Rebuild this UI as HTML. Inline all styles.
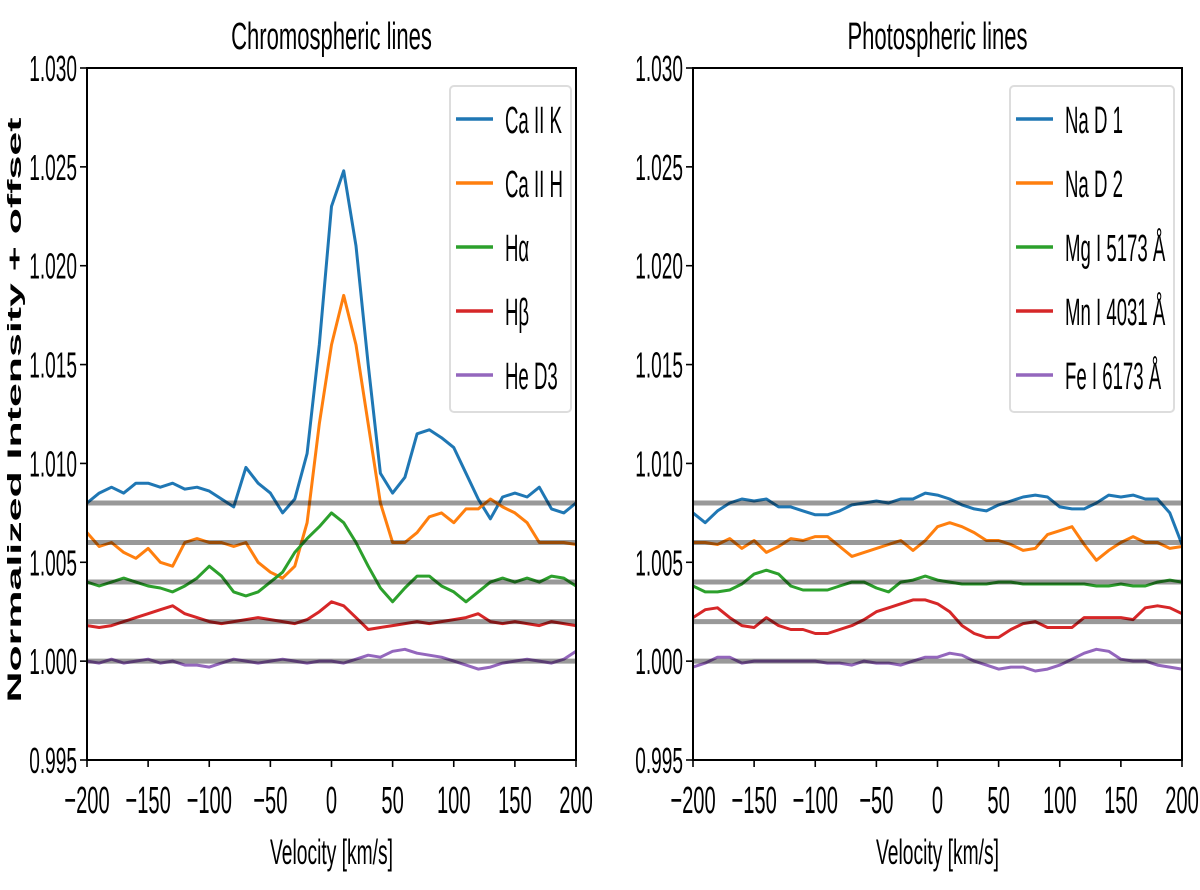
<!DOCTYPE html>
<html><head><meta charset="utf-8"><style>
body{margin:0;background:#fff;width:1200px;height:885px;overflow:hidden}
svg text{font-family:"Liberation Sans",sans-serif;fill:#000}
</style></head><body>
<svg id="fig" width="1200" height="885" xmlns="http://www.w3.org/2000/svg"></svg>
<script>
const velocities=[-200,-190,-180,-170,-160,-150,-140,-130,-120,-110,-100,-90,-80,-70,-60,-50,-40,-30,-20,-10,0,10,20,30,40,50,60,70,80,90,100,110,120,130,140,150,160,170,180,190,200];
const caK=[1.008,1.0085,1.0088,1.0085,1.009,1.009,1.0088,1.009,1.0087,1.0088,1.0086,1.0082,1.0078,1.0098,1.009,1.0085,1.0075,1.0082,1.0105,1.016,1.023,1.0248,1.021,1.015,1.0095,1.0085,1.0093,1.0115,1.0117,1.0113,1.0108,1.0095,1.0082,1.0072,1.0083,1.0085,1.0083,1.0088,1.0077,1.0075,1.008];
const caH=[1.0065,1.0058,1.006,1.0055,1.0052,1.0057,1.005,1.0048,1.006,1.0062,1.006,1.006,1.0058,1.006,1.005,1.0045,1.0042,1.0048,1.007,1.012,1.016,1.0185,1.016,1.012,1.008,1.006,1.006,1.0065,1.0073,1.0075,1.007,1.0077,1.0077,1.0082,1.0078,1.0075,1.007,1.006,1.006,1.006,1.0059];
const halpha=[1.004,1.0038,1.004,1.0042,1.004,1.0038,1.0037,1.0035,1.0038,1.0042,1.0048,1.0043,1.0035,1.0033,1.0035,1.004,1.0045,1.0055,1.0062,1.0068,1.0075,1.007,1.006,1.0048,1.0037,1.003,1.0037,1.0043,1.0043,1.0038,1.0035,1.003,1.0035,1.004,1.0042,1.004,1.0042,1.004,1.0043,1.0042,1.0038];
const hbeta=[1.0018,1.0017,1.0018,1.002,1.0022,1.0024,1.0026,1.0028,1.0024,1.0022,1.002,1.0019,1.002,1.0021,1.0022,1.0021,1.002,1.0019,1.0021,1.0025,1.003,1.0028,1.0022,1.0016,1.0017,1.0018,1.0019,1.002,1.0019,1.002,1.0021,1.0022,1.0024,1.002,1.0019,1.002,1.0019,1.0018,1.002,1.0019,1.0018];
const heD3=[1.0,0.9999,1.0001,0.9999,1.0,1.0001,0.9999,1.0,0.9998,0.9998,0.9997,0.9999,1.0001,1.0,0.9999,1.0,1.0001,1.0,0.9999,1.0,1.0,0.9999,1.0001,1.0003,1.0002,1.0005,1.0006,1.0004,1.0003,1.0002,1.0,0.9998,0.9996,0.9997,0.9999,1.0,1.0001,1.0,0.9999,1.0001,1.0005];
const naD1=[1.0075,1.007,1.0076,1.008,1.0082,1.0081,1.0082,1.0078,1.0078,1.0076,1.0074,1.0074,1.0076,1.0079,1.008,1.0081,1.008,1.0082,1.0082,1.0085,1.0084,1.0082,1.0079,1.0077,1.0076,1.0079,1.0081,1.0083,1.0084,1.0083,1.0078,1.0077,1.0077,1.008,1.0084,1.0083,1.0084,1.0082,1.0082,1.0075,1.0059];
const naD2=[1.006,1.006,1.0059,1.0062,1.0057,1.0061,1.0055,1.0058,1.0062,1.0061,1.0063,1.0063,1.0058,1.0053,1.0055,1.0057,1.0059,1.0061,1.0056,1.0061,1.0068,1.007,1.0068,1.0065,1.0061,1.0061,1.0059,1.0056,1.0057,1.0064,1.0066,1.0068,1.0059,1.0051,1.0056,1.006,1.0063,1.006,1.006,1.0057,1.0058];
const mg=[1.0038,1.0035,1.0035,1.0036,1.0039,1.0044,1.0046,1.0044,1.0038,1.0036,1.0036,1.0036,1.0038,1.004,1.004,1.0037,1.0035,1.004,1.0041,1.0043,1.0041,1.004,1.0039,1.0039,1.0039,1.004,1.004,1.0039,1.0039,1.0039,1.0039,1.0039,1.0039,1.0038,1.0038,1.0039,1.0038,1.0038,1.004,1.0041,1.004];
const mn=[1.0022,1.0026,1.0027,1.0022,1.0018,1.0017,1.0022,1.0018,1.0016,1.0016,1.0014,1.0014,1.0016,1.0018,1.0021,1.0025,1.0027,1.0029,1.0031,1.0031,1.0029,1.0025,1.0018,1.0014,1.0012,1.0012,1.0016,1.0019,1.002,1.0017,1.0017,1.0017,1.0022,1.0022,1.0022,1.0022,1.0021,1.0027,1.0028,1.0027,1.0024];
const fe=[0.9997,0.9999,1.0002,1.0002,0.9999,1.0,1.0,1.0,1.0,1.0,1.0,0.9999,0.9999,0.9998,1.0,0.9999,0.9999,0.9998,1.0,1.0002,1.0002,1.0004,1.0003,1.0,0.9998,0.9996,0.9997,0.9997,0.9995,0.9996,0.9998,1.0001,1.0004,1.0006,1.0005,1.0001,1.0,1.0,0.9998,0.9997,0.9996];
const offsets=[1.008,1.006,1.004,1.002,1.000];
const yTicks=[0.995,1.000,1.005,1.010,1.015,1.020,1.025,1.030];
const xTicks=[-200,-150,-100,-50,0,50,100,150,200];
const leftNames=["Ca II K","Ca II H","Hα","Hβ","He D3"];
const rightNames=["Na D 1","Na D 2","Mg I 5173 Å","Mn I 4031 Å","Fe I 6173 Å"];
const colors=["#1f77b4","#ff7f0e","#2ca02c","#d62728","#9467bd"];

const NS="http://www.w3.org/2000/svg";
const svg=document.getElementById('fig');
function mk(tag,attrs,parent,txt){const e=document.createElementNS(NS,tag);for(const k in attrs)e.setAttribute(k,attrs[k]);if(txt!==undefined)e.textContent=txt;(parent||svg).appendChild(e);return e;}
function sx(x,s){return 'translate('+x+',0) scale('+s+',1) translate('+(-x)+',0)';}

function panel(x0,title,series,names,legX,legW,slug){
  const x1=x0+489, yT=68, yB=760;
  const g=mk('g',{});
  
  
  const xs=v=>x0+(v+200)/400*(x1-x0);
  const ys=v=>yB-(v-0.995)/0.035*(yB-yT);
  const clipId='clip-'+slug;
  const cp=mk('clipPath',{id:clipId},g);mk('rect',{x:x0,y:yT,width:x1-x0,height:yB-yT},cp);
  const lines=mk('g',{'clip-path':'url(#'+clipId+')'},g);
  series.forEach((s,i)=>{
    const p=mk('polyline',{points:s.map((v,j)=>xs(velocities[j]).toFixed(1)+','+ys(v).toFixed(1)).join(' '),fill:'none',stroke:colors[i],'stroke-width':3,'stroke-linejoin':'round'},lines);
    
    
  });
  offsets.forEach(o=>{
    const l=mk('line',{x1:x0,x2:x1,y1:ys(o),y2:ys(o),stroke:'#000','stroke-opacity':0.4,'stroke-width':5},lines);
    
    
  });
  const fr=mk('rect',{x:x0,y:yT,width:x1-x0,height:yB-yT,fill:'none',stroke:'#000','stroke-width':2},g);
  
  
  yTicks.forEach(t=>{
    mk('line',{x1:x0-7,x2:x0,y1:ys(t),y2:ys(t),stroke:'#000','stroke-width':1.6},g);
    const tx=mk('text',{x:x0-10,y:ys(t)+13,'text-anchor':'end','font-size':36,transform:sx(x0-10,0.53)},g,t.toFixed(3));
    
    
  });
  xTicks.forEach(t=>{
    mk('line',{x1:xs(t),x2:xs(t),y1:yB,y2:yB+7,stroke:'#000','stroke-width':1.6},g);
    const lab=(t<0?'\u2212'+(-t):String(t));
    const tx=mk('text',{x:xs(t),y:yB+53,'text-anchor':'middle','font-size':38,transform:sx(xs(t),0.53)},g,lab);
    
    
  });
  const cx=(x0+x1)/2;
  const tt=mk('text',{x:cx,y:49,'text-anchor':'middle','font-size':38,transform:sx(cx,0.58)},g,title);
  
  
  const xl=mk('text',{x:cx,y:864,'text-anchor':'middle','font-size':35,transform:sx(cx,0.55)},g,'Velocity [km/s]');
  
  
  const leg=mk('g',{},g);
  
  
  mk('rect',{x:legX,y:86,width:legW,height:326,rx:4,fill:'#fff','fill-opacity':0.85,stroke:'#ddd','stroke-width':2},leg);
  names.forEach((n,i)=>{
    const y=119+i*64;
    const e=mk('g',{},leg);
    
    
    mk('line',{x1:legX+6,x2:legX+43,y1:y,y2:y,stroke:colors[i],'stroke-width':3.5},e);
    const tx=legX+55;
    mk('text',{x:tx,y:y+14,'font-size':38,transform:sx(tx,0.49)},e,n);
  });
}
panel(87,'Chromospheric lines',[caK,caH,halpha,hbeta,heD3],leftNames,450,121,'chromospheric');
panel(693,'Photospheric lines',[naD1,naD2,mg,mn,fe],rightNames,1010,164,'photospheric');
const yl=mk('text',{x:0,y:0,'text-anchor':'middle','font-size':19,'font-weight':'bold','font-family':'DejaVu Sans',textLength:585,lengthAdjust:'spacingAndGlyphs',transform:'translate(21,410) rotate(-90)'},svg,'Normalized Intensity + offset');


</script>
</body></html>
